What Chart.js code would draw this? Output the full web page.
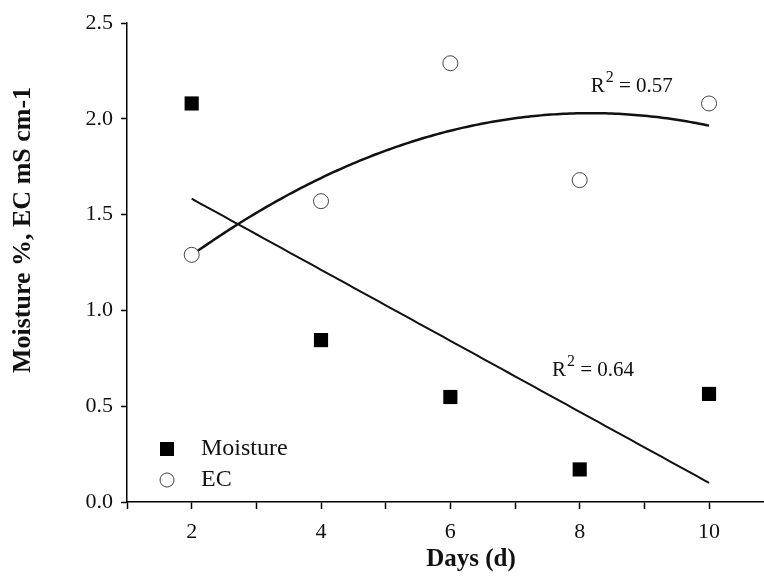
<!DOCTYPE html>
<html>
<head>
<meta charset="utf-8">
<script src="https://cdn.jsdelivr.net/npm/chart.js@4"></script>
<style>
  html, body { margin: 0; padding: 0; background: #fff; }
  #wrap { width: 764px; height: 582px; }
</style>
</head>
<body>
<div id="wrap"><canvas id="moistureChart" width="764" height="582"></canvas></div>
<script>
var days = [2, 4, 6, 8, 10];
var moisture = [2.08, 0.845, 0.548, 0.17, 0.564];
var ec = [1.29, 1.57, 2.29, 1.68, 2.08];
var yTicks = [0, 0.5, 1.0, 1.5, 2.0, 2.5];
var r2Labels = [{ text: '0.57', x: 8.17, y: 2.14 }, { text: '0.64', x: 7.57, y: 0.66 }];
var seriesNames = ['Moisture', 'EC'];
var xTitle = 'Days (d)';
var yTitle = 'Moisture %, EC mS cm-1';

var FONT = '"Liberation Serif", "Times New Roman", serif';

// least squares fits, as the original plot does
function linearFit(xs, ys) {
    var n = xs.length, sx = 0, sy = 0, sxx = 0, sxy = 0;
    for (var i = 0; i < n; i++) {
        sx += xs[i]; sy += ys[i]; sxx += xs[i] * xs[i]; sxy += xs[i] * ys[i];
    }
    var b = (n * sxy - sx * sy) / (n * sxx - sx * sx);
    var a = (sy - b * sx) / n;
    return function (x) { return a + b * x; };
}

function quadFit(xs, ys) {
    var s = [0, 0, 0, 0, 0], t = [0, 0, 0];
    for (var i = 0; i < xs.length; i++) {
        for (var k = 0; k < 5; k++) s[k] += Math.pow(xs[i], k);
        for (var k2 = 0; k2 < 3; k2++) t[k2] += ys[i] * Math.pow(xs[i], k2);
    }
    var m = [[s[0], s[1], s[2], t[0]], [s[1], s[2], s[3], t[1]], [s[2], s[3], s[4], t[2]]];
    for (var c = 0; c < 3; c++) {
        for (var r = c + 1; r < 3; r++) {
            var f = m[r][c] / m[c][c];
            for (var j = c; j < 4; j++) m[r][j] -= f * m[c][j];
        }
    }
    var coef = [0, 0, 0];
    for (var r2 = 2; r2 >= 0; r2--) {
        var v = m[r2][3];
        for (var j2 = r2 + 1; j2 < 3; j2++) v -= m[r2][j2] * coef[j2];
        coef[r2] = v / m[r2][r2];
    }
    return function (x) { return coef[0] + coef[1] * x + coef[2] * x * x; };
}

function curve(fn, from, to) {
    var pts = [];
    for (var x = from; x <= to + 1e-9; x += 0.1) pts.push({ x: x, y: fn(x) });
    return pts;
}

var moistFit = linearFit(days, moisture);
var ecFit = quadFit(days, ec);

var extras = {
    id: 'extras',
    afterDatasetsDraw: function (chart) {
        var c = chart.ctx, xs = chart.scales.x, ys = chart.scales.y, area = chart.chartArea;
        c.save();
        c.fillStyle = '#111';
        c.textBaseline = 'alphabetic';
        c.textAlign = 'left';
        r2Labels.forEach(function (l) {
            var px = xs.getPixelForValue(l.x), py = ys.getPixelForValue(l.y);
            c.font = '21px ' + FONT;
            c.fillText('R', px, py);
            var w = c.measureText('R').width;
            c.font = '16px ' + FONT;
            c.fillText('2', px + w + 1, py - 10);
            var w2 = c.measureText('2').width;
            c.font = '21px ' + FONT;
            c.fillText(' = ' + l.text, px + w + w2 + 1, py);
        });

        // legend inside the plot
        var lx = area.left + 40;
        var rows = [area.bottom - 53, area.bottom - 22];
        c.fillStyle = '#000';
        c.fillRect(lx - 7, rows[0] - 7, 14, 14);
        c.beginPath();
        c.arc(lx, rows[1], 7, 0, Math.PI * 2);
        c.strokeStyle = '#444';
        c.lineWidth = 1;
        c.stroke();
        c.font = '24px ' + FONT;
        c.textBaseline = 'middle';
        c.fillStyle = '#111';
        c.fillText(seriesNames[0], lx + 34, rows[0]);
        c.fillText(seriesNames[1], lx + 34, rows[1]);

        // axis titles
        c.font = 'bold 25px ' + FONT;
        c.textAlign = 'center';
        c.textBaseline = 'alphabetic';
        c.fillText(xTitle, 471, 566);
        c.translate(30, 230);
        c.rotate(-Math.PI / 2);
        c.font = 'bold 26px ' + FONT;
        c.fillText(yTitle, 0, 0);
        c.restore();
    }
};

var ctx = document.getElementById('moistureChart').getContext('2d');
var moistureChart = new Chart(ctx, {
    type: 'scatter',
    data: {
        datasets: [
            {
                label: seriesNames[0],
                data: days.map(function (d, i) { return { x: d, y: moisture[i] }; }),
                pointStyle: 'rect',
                pointRadius: 10,
                backgroundColor: '#000',
                borderColor: '#000',
                borderWidth: 0
            },
            {
                label: seriesNames[1],
                data: days.map(function (d, i) { return { x: d, y: ec[i] }; }),
                pointStyle: 'circle',
                pointRadius: 7.5,
                backgroundColor: '#fff',
                borderColor: '#444',
                borderWidth: 1
            },
            {
                label: 'Moisture fit',
                type: 'line',
                data: curve(moistFit, 2, 10),
                borderColor: '#111',
                borderWidth: 2,
                pointRadius: 0,
                fill: false
            },
            {
                label: 'EC fit',
                type: 'line',
                data: curve(ecFit, 2, 10),
                borderColor: '#111',
                borderWidth: 2.5,
                pointRadius: 0,
                tension: 0.3,
                fill: false
            }
        ]
    },
    options: {
        responsive: false,
        animation: false,
        layout: { autoPadding: false, padding: { top: 23, right: 0, left: 0, bottom: 0 } },
        plugins: {
            legend: { display: false },
            tooltip: { enabled: false }
        },
        scales: {
            x: {
                type: 'linear',
                min: 1,
                max: 10.85,
                afterBuildTicks: function (scale) {
                    scale.ticks = [1, 2, 3, 4, 5, 6, 7, 8, 9, 10].map(function (v) { return { value: v }; });
                },
                afterFit: function (scale) {
                    scale.height = 80;
                    scale.paddingRight = 0;
                    scale.paddingLeft = 0;
                },
                ticks: {
                    color: '#111',
                    font: { family: FONT, size: 22 },
                    padding: 10,
                    maxRotation: 0,
                    autoSkip: false,
                    callback: function (v) { return v % 2 === 0 ? String(v) : ''; }
                },
                grid: { drawOnChartArea: false, drawTicks: true, tickLength: 7, tickColor: '#000', tickWidth: 1.5 },
                border: { display: true, color: '#000', width: 1.5 },
                title: { display: false }
            },
            y: {
                min: 0,
                max: 2.5,
                afterBuildTicks: function (scale) {
                    scale.ticks = yTicks.map(function (v) { return { value: v }; });
                },
                afterFit: function (scale) { scale.width = 127; },
                ticks: {
                    color: '#111',
                    font: { family: FONT, size: 22 },
                    padding: 8,
                    callback: function (v) { return v.toFixed(1); }
                },
                grid: { drawOnChartArea: false, drawTicks: true, tickLength: 6, tickColor: '#000', tickWidth: 1.5 },
                border: { display: true, color: '#000', width: 1.5 },
                title: { display: false }
            }
        }
    },
    plugins: [extras]
});
</script>
</body>
</html>
